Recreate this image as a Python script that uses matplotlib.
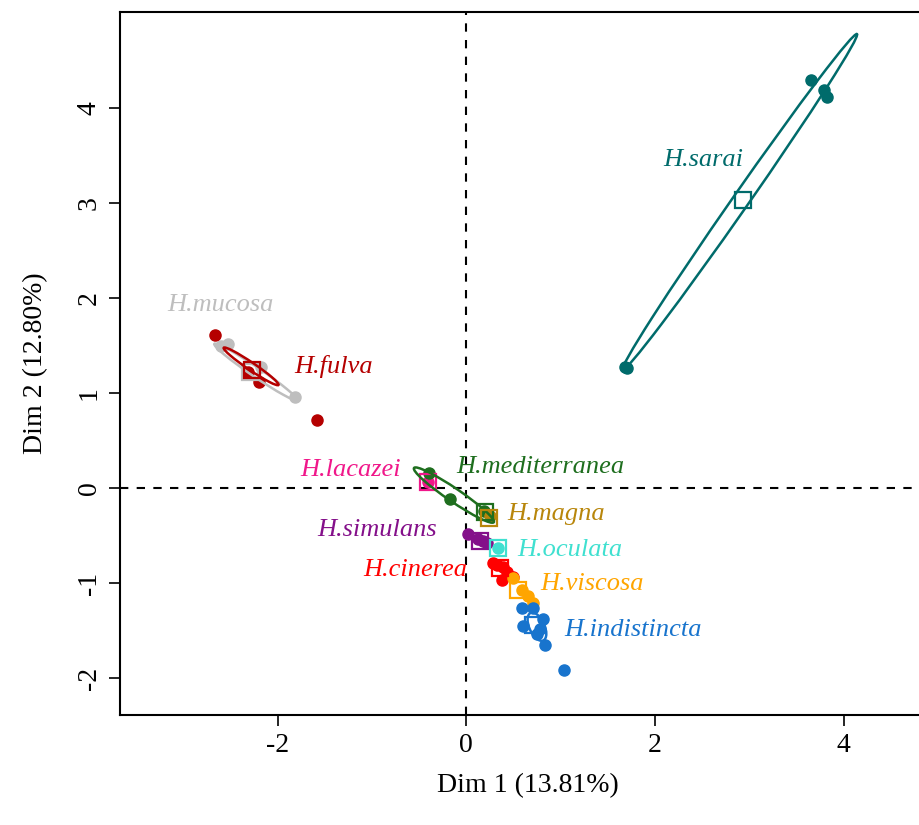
import matplotlib.pyplot as plt
from matplotlib.patches import Ellipse

species = ['H.mucosa', 'H.fulva', 'H.sarai', 'H.lacazei', 'H.mediterranea', 'H.magna',
           'H.simulans', 'H.oculata', 'H.cinerea', 'H.viscosa', 'H.indistincta']
colours = ['#BEBEBE', '#B50000', '#006B6B', '#F0178A', '#1E6E1E', '#B8860B',
           '#84108A', '#40E0D0', '#FF0000', '#FFA500', '#1874CD']

# individual points per species
points_x = [[-2.60, -2.52, -2.18, -1.81],
            [-2.66, -2.31, -2.20, -1.58],
            [3.65, 3.79, 3.82, 1.68, 1.70],
            [-0.41],
            [-0.39, -0.17, 0.19],
            [0.25],
            [0.02, 0.12, 0.18, 0.22],
            [0.34],
            [0.28, 0.33, 0.39, 0.38, 0.50, 0.43],
            [0.50, 0.59, 0.65, 0.71],
            [0.59, 0.71, 0.60, 0.81, 0.75, 0.84, 1.04, 0.78]]
points_y = [[1.49, 1.51, 1.27, 0.96],
            [1.61, 1.22, 1.11, 0.72],
            [4.29, 4.19, 4.12, 1.27, 1.26],
            [0.06],
            [0.16, -0.12, -0.24],
            [-0.30],
            [-0.48, -0.54, -0.56, -0.58],
            [-0.63],
            [-0.79, -0.81, -0.83, -0.97, -0.94, -0.88],
            [-0.95, -1.07, -1.14, -1.21],
            [-1.26, -1.26, -1.45, -1.38, -1.54, -1.65, -1.92, -1.48]]

# barycentres (open squares)
centre_x = [-2.29, -2.27, 2.93, -0.41, 0.20, 0.24, 0.15, 0.34, 0.36, 0.55, 0.71]
centre_y = [1.22, 1.24, 3.03, 0.06, -0.25, -0.32, -0.56, -0.63, -0.84, -1.07, -1.44]

# confidence ellipses: centre, full length, full width, angle (deg); 0 = none drawn
ell_x = [-2.23, -2.28, 2.90, -0.41, -0.13, 0.24, 0.15, 0.34, 0.40, 0.55, 0.75]
ell_y = [1.22, 1.28, 3.01, 0.06, -0.075, -0.32, -0.56, -0.63, -0.87, -1.07, -1.46]
ell_len = [1.06, 0.70, 4.32, 0, 1.02, 0, 0, 0, 0, 0, 0.32]
ell_wid = [0.10, 0.08, 0.17, 0, 0.14, 0, 0, 0, 0, 0, 0.16]
ell_ang = [-34, -34, 54.9, 0, -34, 0, 0, 0, 0, 0, -65]

label_x = [-2.60, -1.41, 2.51, -1.23, 0.79, 0.95, -0.94, 1.10, -0.54, 1.33, 1.77]
label_y = [1.93, 1.28, 3.45, 0.19, 0.22, -0.27, -0.44, -0.65, -0.86, -1.01, -1.49]

plt.rcParams['font.family'] = ['Liberation Serif', 'DejaVu Serif']
plt.rcParams['axes.unicode_minus'] = False

fig = plt.figure(figsize=(9.2, 8.25), dpi=100)
ax = fig.add_axes([0.1304, 0.1333, 0.887, 0.8522])

ax.axvline(0, color='black', linestyle=(0, (4, 4)), linewidth=1.5, zorder=1)
ax.axhline(0, color='black', linestyle=(0, (4, 4)), linewidth=1.5, zorder=1)

for i, name in enumerate(species):
    c = colours[i]
    ax.plot(points_x[i], points_y[i], 'o', color=c, markersize=8, zorder=3)
    ax.plot(centre_x[i], centre_y[i], 's', markerfacecolor='none', markeredgecolor=c,
            markersize=11, markeredgewidth=1.6, zorder=4)
    if ell_len[i] > 0:
        ax.add_patch(Ellipse((ell_x[i], ell_y[i]), ell_len[i], ell_wid[i], angle=ell_ang[i],
                             fill=False, edgecolor=c, linewidth=1.8, zorder=4))
    ax.text(label_x[i], label_y[i], name, color=c, fontsize=19, style='italic',
            ha='center', va='center', zorder=5)

ax.set_xlim(-3.67, 4.98)
ax.set_ylim(-2.39, 5.01)
ax.set_xticks([-2, 0, 2, 4])
ax.set_yticks([-2, -1, 0, 1, 2, 3, 4])
ax.tick_params(labelsize=20, length=8, width=1.2, pad=5)
for lab in ax.get_yticklabels():
    lab.set_rotation(90)
    lab.set_va('center')
ax.set_xlabel('Dim 1 (13.81%)', fontsize=20, labelpad=11)
ax.set_ylabel('Dim 2 (12.80%)', fontsize=20, labelpad=21)
for s in ax.spines.values():
    s.set_linewidth(1.5)

fig.savefig('out.png', dpi=100)
